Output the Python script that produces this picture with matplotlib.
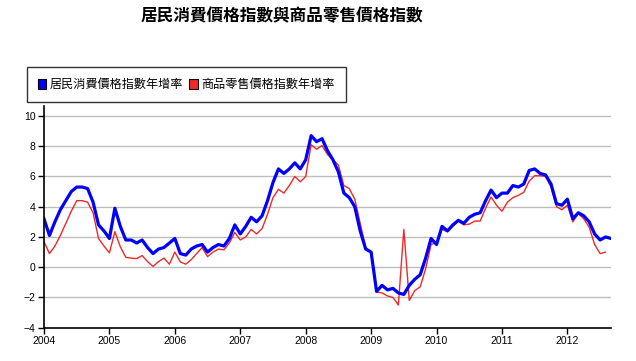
import matplotlib
matplotlib.use("Agg")
from matplotlib import pyplot as plt
from matplotlib.patches import Patch

plt.rcParams['font.family'] = ['Liberation Sans', 'Noto Sans CJK TC', 'DejaVu Sans']

## datos mensuales, ene 2004 ...
start_year = 2004
cpi = [3.2, 2.1, 3.0, 3.8, 4.4, 5.0, 5.3, 5.3, 5.2, 4.3, 2.8, 2.4,
       1.9, 3.9, 2.7, 1.8, 1.8, 1.6, 1.8, 1.3, 0.9, 1.2, 1.3, 1.6,
       1.9, 0.9, 0.8, 1.2, 1.4, 1.5, 1.0, 1.3, 1.5, 1.4, 1.9, 2.8,
       2.2, 2.7, 3.3, 3.0, 3.4, 4.4, 5.6, 6.5, 6.2, 6.5, 6.9, 6.5,
       7.1, 8.7, 8.3, 8.5, 7.7, 7.1, 6.3, 4.9, 4.6, 4.0, 2.4, 1.2,
       1.0, -1.6, -1.2, -1.5, -1.4, -1.7, -1.8, -1.2, -0.8, -0.5, 0.6, 1.9,
       1.5, 2.7, 2.4, 2.8, 3.1, 2.9, 3.3, 3.5, 3.6, 4.4, 5.1, 4.6,
       4.9, 4.9, 5.4, 5.3, 5.5, 6.4, 6.5, 6.2, 6.1, 5.5, 4.2, 4.1,
       4.5, 3.2, 3.6, 3.4, 3.0, 2.2, 1.8, 2.0, 1.9]
rpi = [1.7, 0.9, 1.4, 2.1, 2.9, 3.7, 4.4, 4.4, 4.3, 3.6, 1.9, 1.4,
       0.95, 2.35, 1.35, 0.65, 0.6, 0.57, 0.77, 0.37, 0.05, 0.37, 0.6, 0.2,
       1.0, 0.35, 0.2, 0.5, 0.9, 1.3, 0.7, 1.0, 1.2, 1.15, 1.6, 2.3,
       1.8, 2.0, 2.5, 2.2, 2.55, 3.5, 4.6, 5.15, 4.9, 5.4, 6.0, 5.65,
       6.0, 8.1, 7.8, 8.05, 7.45, 7.1, 6.75, 5.4, 5.2, 4.5, 2.9, 1.3,
       1.0, -1.65, -1.7, -1.9, -2.0, -2.5, 2.5, -2.2, -1.55, -1.3, -0.1, 1.5,
       1.65, 2.5, 2.35, 2.7, 3.05, 2.8, 2.85, 3.05, 3.05, 3.9, 4.65, 4.1,
       3.7, 4.3, 4.6, 4.75, 4.95, 5.7, 6.05, 6.05, 6.0, 5.3, 4.0, 3.8,
       4.1, 3.0, 3.55, 3.2, 2.65, 1.5, 0.9, 1.0]
year_ticks = list(range(2004, 2013))
y_ticks = list(range(-4, 11, 2))

title = '居民消費價格指數與商品零售價格指數'
labels = ['居民消費價格指數年增率', '商品零售價格指數年增率']
colors = ['#0000ff', '#f02828']

cjk = ['Noto Sans CJK TC', 'DejaVu Sans']

x_cpi = [start_year + i / 12 for i in range(len(cpi))]
x_rpi = [start_year + i / 12 for i in range(len(rpi))]

fig = plt.figure(figsize=(6.36, 3.61), dpi=100)
ax = fig.add_axes([44 / 636, 1 - 327.7 / 361, 567 / 636, 221.7 / 361])

ax.plot(x_rpi, rpi, color=colors[1], lw=1.0, zorder=3)
ax.plot(x_cpi, cpi, color=colors[0], lw=2.3, zorder=4, solid_joinstyle='round')

ax.set_xlim(start_year, start_year + 104 / 12)
ax.set_ylim(-4, 10.66)
ax.set_xticks(year_ticks)
ax.set_yticks(y_ticks)
ax.tick_params(labelsize=7.5, length=4, width=1, color='black', pad=2)

for v in y_ticks[1:]:
    ax.axhline(v, color='#bdbdbd', lw=1, zorder=1)

for s in ['top', 'right']:
    ax.spines[s].set_visible(False)
for s in ['left', 'bottom']:
    ax.spines[s].set_linewidth(1.2)
    ax.spines[s].set_zorder(5)

fig.text(282 / 636, 1 - 16 / 361, title, ha='center', va='center',
         fontsize=12, fontweight='bold', family=cjk)

handles = [Patch(facecolor=c, edgecolor='black', lw=0.8) for c in colors]
leg = fig.legend(handles, labels, loc='upper left',
                 bbox_to_anchor=(27 / 636, 1 - 67 / 361), ncol=2,
                 prop={'family': cjk, 'size': 8.7}, frameon=True, fancybox=False,
                 borderaxespad=0, handlelength=0.7, handleheight=0.9,
                 handletextpad=0.3, columnspacing=0.5, borderpad=0.9)
leg.get_frame().set_edgecolor('black')
leg.get_frame().set_linewidth(1.0)

fig.savefig('out.png', dpi=100)
